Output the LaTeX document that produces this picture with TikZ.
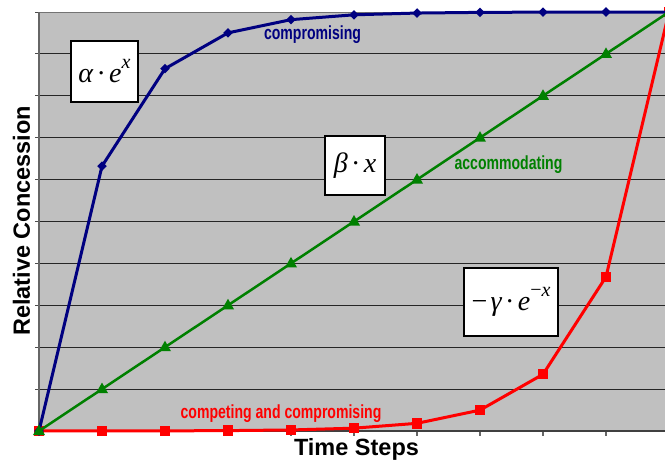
\documentclass[tikz,border=0pt]{standalone}
\usepackage[no-math]{fontspec}
\setmainfont{Liberation Sans}
\newfontfamily\tnr{Liberation Serif}
\definecolor{plotbg}{RGB}{192,192,192}
\definecolor{navy}{RGB}{0,0,128}
\definecolor{dgreen}{RGB}{0,128,0}
\begin{document}
\begin{tikzpicture}[x=1pt,y=-1pt,
  lbl/.style={font=\bfseries\fontsize{19}{21}\selectfont, inner sep=0pt, anchor=base},
  axlbl/.style={font=\bfseries\fontsize{23.5}{26}\selectfont, inner sep=0pt, anchor=base},
  eqbox/.style={draw=black, line width=2pt, fill=white, inner sep=0pt},
  gridline/.style={line width=1pt, black!85},
  axisline/.style={line width=1.5pt, black!60},
  blueline/.style={navy, line width=3pt, line join=round},
  greenline/.style={dgreen, line width=2.5pt, line join=round},
  redline/.style={red, line width=3pt, line join=round}]
\useasboundingbox (0,0) rectangle (665,463);
\begin{scope}
\clip (0,0) rectangle (665,463);
\fill[plotbg] (39,12) rectangle (670,431);
% grid
\foreach \k in {1,...,9} \draw[gridline] (35,{431-41.9*\k}) -- (670,{431-41.9*\k});
\draw[line width=1pt, black!55] (35,12) -- (670,12);
\foreach \k in {0,...,10} \draw[line width=1pt, black!70] (35,{431-41.9*\k}) -- (39,{431-41.9*\k});
\foreach \i in {0,...,10} \draw[line width=1.2pt, black!60] ({39+63*\i},431) -- ({39+63*\i},436);
\draw[axisline] (39,12) -- (39,431);
\draw[line width=1.5pt, black!75] (39,431) -- (670,431);
% data coordinates
\foreach \i/\v in {0/0,1/0.6321,2/0.8647,3/0.9502,4/0.9817,5/0.9933,6/0.9975,7/0.9991,8/0.9997,9/0.9999,10/1}
  \coordinate (b\i) at ({39+63*\i},{431-419*\v});
\foreach \i/\v in {0/0.00005,1/0.00012,2/0.00034,3/0.00091,4/0.00248,5/0.00674,6/0.01832,7/0.04979,8/0.13534,9/0.36788,10/1}
  \coordinate (r\i) at ({39+63*\i},{431-419*\v});
\foreach \i in {0,...,10}
  \coordinate (g\i) at ({39+63*\i},{431-41.9*\i});
% red series
\draw[redline] (r0) \foreach \i in {1,...,10}{ -- (r\i)};
\foreach \i in {0,...,10} \fill[red] (r\i) ++(-5.2,-5.2) rectangle ++(10.4,10.4);
% blue series
\draw[blueline] (b0) \foreach \i in {1,...,10}{ -- (b\i)};
\foreach \i in {0,...,10} \fill[navy] (b\i) +(-4.8,0) -- +(0,-4.8) -- +(4.8,0) -- +(0,4.8) -- cycle;
% green series
\draw[greenline] (g0) \foreach \i in {1,...,10}{ -- (g\i)};
\foreach \i in {0,...,10} \fill[dgreen] (g\i) +(-6,4) -- +(6,4) -- +(0,-6.5) -- cycle;
\end{scope}
% equation boxes
\node[eqbox, minimum width=67pt, minimum height=61pt] (ea) at (104.5,71.5)
  {\tnr\fontsize{28}{30}\selectfont\itshape α\hspace{0.12em}{\upshape·}\hspace{0.12em}e\raisebox{0.5em}{\fontsize{20}{20}\selectfont x}};
\node[eqbox, minimum width=60pt, minimum height=59pt] (eb) at (355,165.5)
  {\tnr\fontsize{28}{30}\selectfont\itshape β\hspace{0.12em}{\upshape·}\hspace{0.12em}x};
\node[eqbox, minimum width=94pt, minimum height=68pt] (eg) at (511,302)
  {\tnr\fontsize{28}{30}\selectfont{\upshape −}\hspace{0.12em}\itshape γ\hspace{0.12em}{\upshape·}\hspace{0.12em}e\raisebox{0.5em}{\fontsize{20}{20}\selectfont{\upshape −}x}};
% series labels
\node[lbl, text=navy] (lc) at (312.5,39.5) {\scalebox{0.74}[1]{compromising}};
\node[lbl, text=dgreen] (la) at (508.5,169) {\scalebox{0.74}[1]{accommodating}};
\node[lbl, text=red] (lr) at (281,418) {\scalebox{0.74}[1]{competing and compromising}};
% axis labels
\node[axlbl] (xl) at (356.5,455) {Time Steps};
\node[axlbl, rotate=90] (yl) at (30,221) {Relative Concession};
\end{tikzpicture}
\end{document}
